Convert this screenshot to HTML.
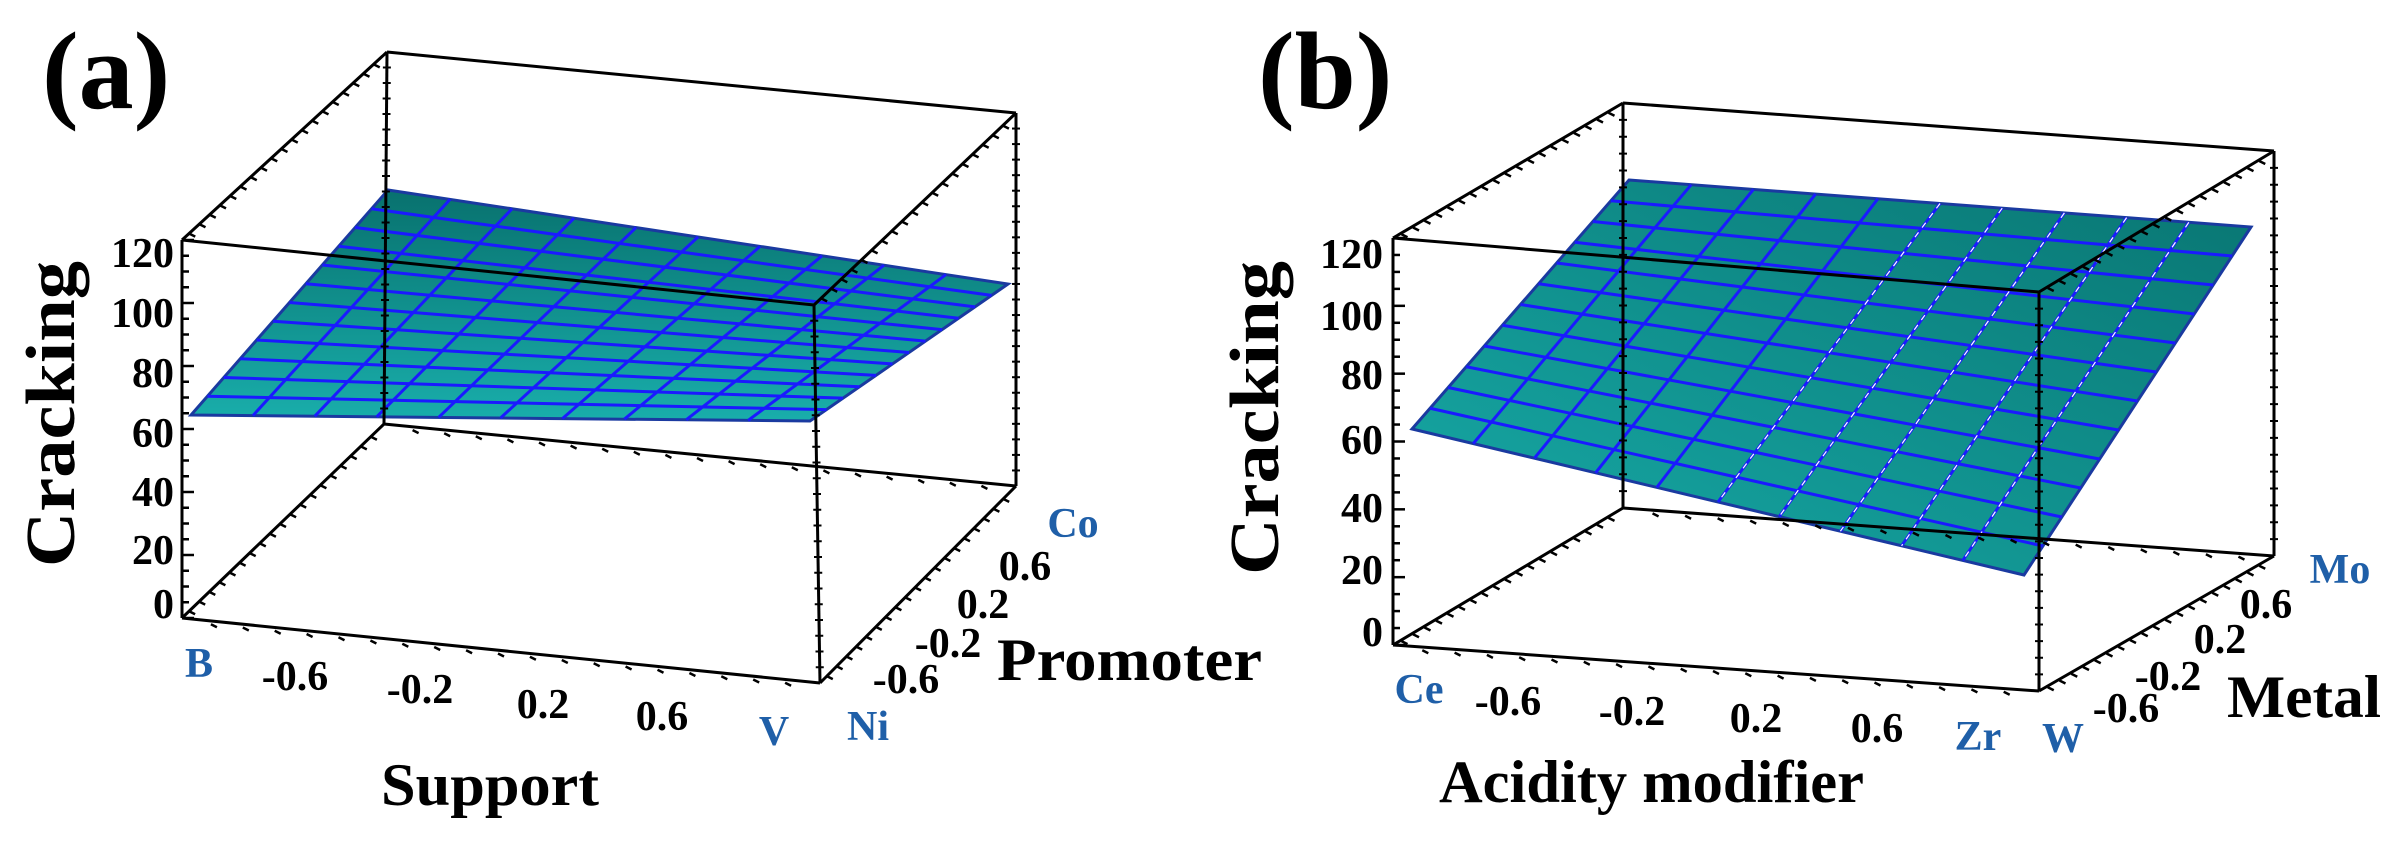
<!DOCTYPE html>
<html><head><meta charset="utf-8"><style>
html,body{margin:0;padding:0;background:#fff;}
svg{display:block;}
text{font-family:"Liberation Serif",serif;font-weight:bold;}
</style></head><body>
<svg id="s" width="2405" height="846" viewBox="0 0 2405 846" xmlns="http://www.w3.org/2000/svg">
<defs>
<linearGradient id="ga" x1="0" y1="0" x2="0" y2="1"><stop offset="0" stop-color="#08716e"/><stop offset="1" stop-color="#19aeab"/></linearGradient>
<linearGradient id="gb" x1="0" y1="1" x2="1" y2="0"><stop offset="0" stop-color="#17aaa7"/><stop offset="1" stop-color="#097572"/></linearGradient>
</defs>
<g id="surf"></g>
<g id="box" stroke="#000" stroke-width="3" fill="none"></g>
<!-- panel a text -->
<text x="42" y="108" font-size="110">(a)</text>
<g font-size="42" text-anchor="end">
<text x="174" y="267">120</text><text x="174" y="327">100</text><text x="174" y="387">80</text>
<text x="174" y="447">60</text><text x="174" y="506">40</text><text x="174" y="564">20</text><text x="174" y="618">0</text>
</g>
<text transform="translate(74,414) rotate(-90)" font-size="70" text-anchor="middle" textLength="306" lengthAdjust="spacingAndGlyphs">Cracking</text>
<g font-size="42" text-anchor="middle">
<text x="199" y="677" fill="#1f5fa8">B</text>
<text x="295" y="690">-0.6</text><text x="420" y="703">-0.2</text><text x="543" y="718">0.2</text><text x="662" y="730">0.6</text>
<text x="774" y="745" fill="#1f5fa8">V</text><text x="868" y="740" fill="#1f5fa8">Ni</text>
<text x="906" y="693">-0.6</text><text x="948" y="657">-0.2</text><text x="983" y="618">0.2</text><text x="1025" y="580">0.6</text>
<text x="1073" y="537" fill="#1f5fa8">Co</text>
</g>
<text x="381" y="805" font-size="60" textLength="218" lengthAdjust="spacingAndGlyphs">Support</text>
<text x="997" y="680" font-size="60" textLength="265" lengthAdjust="spacingAndGlyphs">Promoter</text>
<!-- panel b text -->
<text x="1258" y="108" font-size="110">(b)</text>
<g font-size="42" text-anchor="end">
<text x="1383" y="268">120</text><text x="1383" y="330">100</text><text x="1383" y="389">80</text>
<text x="1383" y="454">60</text><text x="1383" y="522">40</text><text x="1383" y="584">20</text><text x="1383" y="646">0</text>
</g>
<text transform="translate(1278,418) rotate(-90)" font-size="70" text-anchor="middle" textLength="314" lengthAdjust="spacingAndGlyphs">Cracking</text>
<g font-size="42" text-anchor="middle">
<text x="1419" y="703" fill="#1f5fa8">Ce</text>
<text x="1508" y="715">-0.6</text><text x="1632" y="725">-0.2</text><text x="1756" y="732">0.2</text><text x="1877" y="742">0.6</text>
<text x="1978" y="750" fill="#1f5fa8">Zr</text><text x="2063" y="752" fill="#1f5fa8">W</text>
<text x="2126" y="722">-0.6</text><text x="2168" y="690">-0.2</text><text x="2220" y="653">0.2</text><text x="2266" y="618">0.6</text>
<text x="2340" y="583" fill="#1f5fa8">Mo</text>
</g>
<text x="1439" y="802" font-size="60" textLength="425" lengthAdjust="spacingAndGlyphs">Acidity modifier</text>
<text x="2227" y="717" font-size="60" textLength="154" lengthAdjust="spacingAndGlyphs">Metal</text>
</svg>
<script>
var NS="http://www.w3.org/2000/svg";
function el(p,t,a){var e=document.createElementNS(NS,t);for(var k in a)e.setAttribute(k,a[k]);p.appendChild(e);return e;}
var S=document.getElementById('surf'),B=document.getElementById('box');
function lerp(a,b,t){return [a[0]+(b[0]-a[0])*t,a[1]+(b[1]-a[1])*t];}
function surface(bl,br,fr,fl,fill,nu,nv,dashFrom){
 el(S,'polygon',{points:[bl,br,fr,fl].map(function(p){return p.join(',')}).join(' '),fill:fill,stroke:'#1a3aa0','stroke-width':3});
 for(var i=1;i<nv;i++){var t=i/nv;var a=lerp(bl,fl,t),b=lerp(br,fr,t);
  el(S,'line',{x1:a[0],y1:a[1],x2:b[0],y2:b[1],stroke:'#1a1aff','stroke-width':3});}
 for(var j=1;j<nu;j++){var t=j/nu;var a=lerp(bl,br,t),b=lerp(fl,fr,t);
  el(S,'line',{x1:a[0],y1:a[1],x2:b[0],y2:b[1],stroke:'#1a1aff','stroke-width':3});
  if(dashFrom&&j>=dashFrom)el(S,'line',{x1:a[0],y1:a[1],x2:b[0],y2:b[1],stroke:'#fff','stroke-width':1.2,'stroke-dasharray':'6 6'});}
}
function box(flt,flb,frt,frb,blt,blb,brt,brb){
 var E=[[flt,flb],[frt,frb],[blt,blb],[brt,brb],[flt,frt],[flb,frb],[blt,brt],[blb,brb],[flt,blt],[flb,blb],[frt,brt],[frb,brb]];
 E.forEach(function(e){el(B,'line',{x1:e[0][0],y1:e[0][1],x2:e[1][0],y2:e[1][1]});});
 for(var i=0;i<=24;i++){var p=lerp(flb,flt,i/24);el(B,'line',{x1:p[0],y1:p[1],x2:p[0]+(i%4==0?12:7),y2:p[1],'stroke-width':2.5});}
 [[frb,frt],[brb,brt],[blb,blt]].forEach(function(e){for(var i=1;i<24;i++){var p=lerp(e[0],e[1],i/24);el(B,'line',{x1:p[0]-4,y1:p[1],x2:p[0]+4,y2:p[1],'stroke-width':2});}});
 [[flt,blt],[flb,blb],[frb,brb],[blb,brb],[flb,frb],[frt,brt]].forEach(function(e){for(var i=1;i<20;i++){var p=lerp(e[0],e[1],i/20);el(B,'line',{x1:p[0]-3,y1:p[1]+3,x2:p[0]+3,y2:p[1]+6,'stroke-width':2.5});}});
}
surface([388,190],[1008,284],[810,421],[191,415],'url(#ga)',10,12,0);
box([182,240],[182,618],[814,305],[820,683],[387,52],[384,424],[1016,113],[1016,486]);
surface([1629,180],[2251,227],[2024,575],[1412,429],'url(#gb)',10,12,5);
box([1393,238],[1393,645],[2039,292],[2039,691],[1623,103],[1623,508],[2274,151],[2274,556]);
</script>
</body></html>
